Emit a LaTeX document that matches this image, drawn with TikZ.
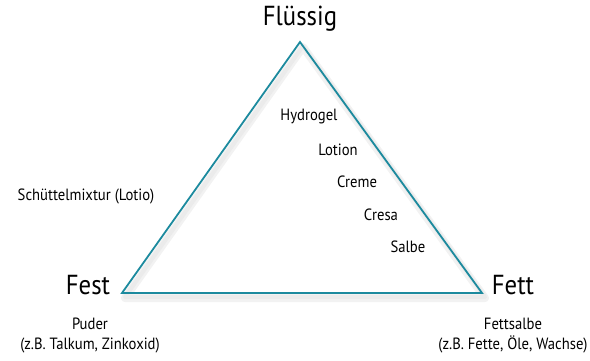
\documentclass[tikz,border=0pt]{standalone}
\usepackage{fontspec}
\setmainfont[FakeStretch=0.9]{PT Sans}
\usepackage{xcolor}
\usetikzlibrary{positioning, calc}
\definecolor{tealline}{RGB}{28,138,158}

\begin{document}
\begin{tikzpicture}[
			x=1pt, y=-1pt,
			corner/.style={font=\fontsize{27.5}{30}\selectfont, inner sep=0pt},
			lbl/.style={font=\fontsize{16.3}{19}\selectfont, inner sep=0pt, align=center},
			edge/.style={draw=tealline, line width=1.8pt, line join=miter},
			shade/.style={draw=black!#1, line join=round, line width=5pt},
		]
			\useasboundingbox (0,0) rectangle (590,360);
			\coordinate (top) at (300,42);
			\coordinate (left) at (122,293);
			\coordinate (right) at (482,293);
			% soft shadow
			\draw[shade=5, line width=8pt] ($(top)+(3,5)$) -- ($(right)+(3,5)$) -- ($(left)+(3,5)$) -- cycle;
			\draw[shade=8, line width=4pt] ($(top)+(3,4)$) -- ($(right)+(3,4)$) -- ($(left)+(3,4)$) -- cycle;
			\draw[edge] (top) -- (right) -- (left) -- cycle;
			% corners
			\node[corner] (fl) at (300,19) {Flüssig};
			\node[corner] (fe) at (88,285) {Fest};
			\node[corner] (ft) at (513,285) {Fett};
			\node[lbl] (pu) at (90,336) {Puder\\[1pt](z.B. Talkum, Zinkoxid)};
			\node[lbl] (fs) at (513,336) {Fettsalbe\\[1pt](z.B. Fette, Öle, Wachse)};
			\node[lbl] (sm) at (86,196) {Schüttelmixtur (Lotio)};
			% preparations
			\node[lbl] (hy) at (309,117) {Hydrogel};
			\node[lbl] (lo) at (338,150) {Lotion};
			\node[lbl] (cr) at (357,182) {Creme};
			\node[lbl] (cs) at (381,215) {Cresa};
			\node[lbl] (sa) at (408,247) {Salbe};
		\end{tikzpicture}
\end{document}
